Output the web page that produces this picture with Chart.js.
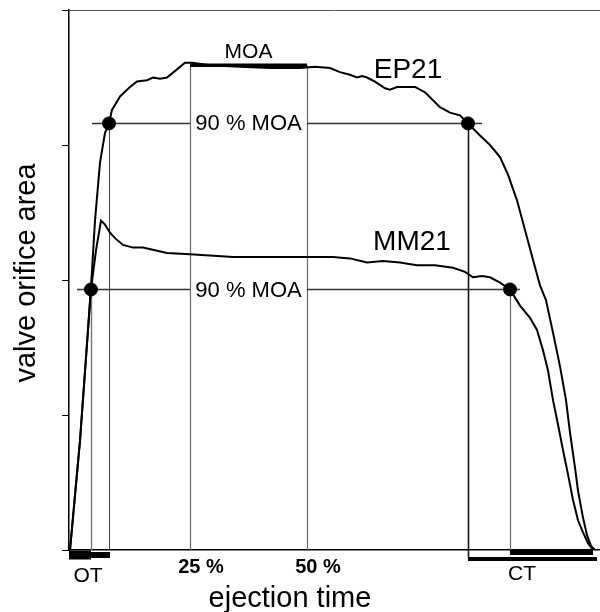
<!DOCTYPE html>
<html>
<head>
<meta charset="utf-8">
<script src="https://cdn.jsdelivr.net/npm/chart.js@4.4.1/dist/chart.umd.min.js"></script>
<style>
  body { margin: 0; background: #fff; }
  canvas { display: block; }
</style>
</head>
<body>
<canvas id="myChart" width="600" height="612"></canvas>
<script>
// EP21 valve orifice area over ejection time
var epTime = [0.5, 5.5, 9.5, 11.5, 13, 15.5, 18, 20, 21.5, 25.5, 30.5, 34, 39, 42, 45.5, 49, 54, 58, 61.5,
  70.5, 85.5, 100.5, 115.5, 123, 130.5, 135.5, 140.5, 144, 146.5, 149, 153, 158, 160.5, 164, 173, 178,
  185.5, 190.5, 195.5, 199.5, 205.5, 210.5, 215.5, 219.5, 224, 228, 232, 235.5, 238.5, 242, 245.5, 248.5,
  250.5, 253, 254.5, 257, 259, 261, 263];
var epArea = [0, 0.81, 1.63, 2.07, 2.44, 2.87, 3.09, 3.16, 3.26, 3.36, 3.43, 3.47, 3.48, 3.5, 3.49, 3.5, 3.56, 3.61, 3.61,
  3.59, 3.58, 3.57, 3.57, 3.58, 3.57, 3.54, 3.52, 3.5, 3.51, 3.5, 3.47, 3.42, 3.41, 3.43, 3.43, 3.39,
  3.28, 3.24, 3.22, 3.16, 3.07, 3.0, 2.91, 2.78, 2.59, 2.37, 2.15, 1.96, 1.85, 1.61, 1.36, 1.11,
  0.87, 0.61, 0.44, 0.24, 0.11, 0.03, 0];

// MM21
var mmTime = [0.5, 5.5, 9.5, 11, 13.5, 16, 18, 20.5, 23, 27, 32, 37, 49, 60.5, 82, 100.5, 115.5, 132, 140.5,
  149, 157, 165.5, 174, 183, 192, 198, 202, 206.5, 210.5, 215.5, 220.5, 225.5, 230.5, 234, 237, 239.5,
  242, 244.5, 247, 249.5, 252, 254.5, 257, 259.5, 261.5, 263];
var mmArea = [0, 0.81, 1.63, 1.93, 2.22, 2.44, 2.41, 2.35, 2.31, 2.26, 2.24, 2.24, 2.2, 2.19, 2.17, 2.17, 2.17, 2.17, 2.16,
  2.13, 2.14, 2.13, 2.11, 2.11, 2.09, 2.06, 2.02, 2.03, 2.02, 1.98, 1.93, 1.81, 1.72, 1.63, 1.48, 1.33,
  1.11, 0.93, 0.74, 0.56, 0.37, 0.22, 0.13, 0.05, 0.01, 0];

// markers: index 0 = EP21, index 1 = MM21
var onsetTime = 0.5;
var openTimes = [20, 11];
var closeTimes = [199.5, 220.5];
var endTimes = [264, 262];
var level90 = [3.16, 1.93];
var lineFrom = [11.5, 4];
var lineTo = [206.5, 225.5];
var moaLevel = 3.59;
var pctTimes = [60.5, 119];
var pctLabels = ['25 %', '50 %'];

var FONT = "'Liberation Sans', Arial, sans-serif";

var dotX = [], dotY = [];
for (var i = 0; i < 2; i++) {
  dotX.push(openTimes[i], closeTimes[i]);
  dotY.push(level90[i], level90[i]);
}

function toPoints(xs, ys) {
  var pts = [];
  for (var i = 0; i < xs.length; i++) pts.push({x: xs[i], y: ys[i]});
  return pts;
}

function seg(ctx, x1, y1, x2, y2) {
  ctx.beginPath();
  ctx.moveTo(x1, y1);
  ctx.lineTo(x2, y2);
  ctx.stroke();
}

var overlay = {
  id: 'overlay',
  beforeDatasetsDraw: function(chart) {
    var ctx = chart.ctx, xs = chart.scales.x, ys = chart.scales.y, a = chart.chartArea;
    var y0 = ys.getPixelForValue(0);
    ctx.save();
    // top frame line
    ctx.strokeStyle = '#555';
    ctx.lineWidth = 1;
    seg(ctx, a.left, a.top + 0.5, a.right, a.top + 0.5);

    // 25 % / 50 % lines
    ctx.strokeStyle = '#666';
    ctx.lineWidth = 1.2;
    pctTimes.forEach(function(t) {
      var px = Math.round(xs.getPixelForValue(t)) + 0.5;
      seg(ctx, px, ys.getPixelForValue(moaLevel), px, y0);
    });

    // opening / closing verticals
    var vcol = [['#444', '#111'], ['#777', '#666']];
    for (var i = 0; i < 2; i++) {
      var yl = ys.getPixelForValue(level90[i]);
      var po = Math.round(xs.getPixelForValue(openTimes[i])) + 0.5;
      var pc = Math.round(xs.getPixelForValue(closeTimes[i])) + 0.5;
      ctx.strokeStyle = vcol[i][0];
      ctx.lineWidth = i === 0 ? 1 : 1.4;
      seg(ctx, po, yl, po, y0);
      ctx.strokeStyle = vcol[i][1];
      ctx.lineWidth = i === 0 ? 1.6 : 1.2;
      seg(ctx, pc, yl, pc, i === 0 ? y0 + 8 : y0);

      // 90 % MOA horizontal, broken where the label sits
      ctx.strokeStyle = '#333';
      ctx.lineWidth = 1.5;
      seg(ctx, xs.getPixelForValue(lineFrom[i]), yl, xs.getPixelForValue(pctTimes[0]), yl);
      seg(ctx, xs.getPixelForValue(pctTimes[1]), yl, xs.getPixelForValue(lineTo[i]), yl);
    }
    ctx.restore();
  },
  afterDatasetsDraw: function(chart) {
    var ctx = chart.ctx, xs = chart.scales.x, ys = chart.scales.y, a = chart.chartArea;
    var y0 = ys.getPixelForValue(0);
    ctx.save();
    ctx.strokeStyle = '#000';
    ctx.lineCap = 'butt';

    // MOA plateau bar
    ctx.lineWidth = 3.5;
    var ym = ys.getPixelForValue(moaLevel);
    seg(ctx, xs.getPixelForValue(pctTimes[0]), ym, xs.getPixelForValue(pctTimes[1]), ym);

    // OT bars
    ctx.lineWidth = 6;
    seg(ctx, xs.getPixelForValue(onsetTime) - 1, y0 + 5, xs.getPixelForValue(openTimes[0]) + 1, y0 + 5);
    ctx.lineWidth = 9;
    seg(ctx, xs.getPixelForValue(onsetTime) - 1, y0 + 5, xs.getPixelForValue(openTimes[1]), y0 + 5);
    // CT bars
    ctx.lineWidth = 5;
    seg(ctx, xs.getPixelForValue(closeTimes[1]), y0 + 2.5, xs.getPixelForValue(endTimes[1]), y0 + 2.5);
    ctx.lineWidth = 4;
    seg(ctx, xs.getPixelForValue(closeTimes[0]), y0 + 9, xs.getPixelForValue(endTimes[0]), y0 + 9);

    // texts
    ctx.fillStyle = '#000';
    ctx.textAlign = 'center';
    ctx.textBaseline = 'middle';
    ctx.font = '22px ' + FONT;
    var midPct = xs.getPixelForValue((pctTimes[0] + pctTimes[1]) / 2);
    for (var i = 0; i < 2; i++) {
      ctx.fillText('90 % MOA', midPct, ys.getPixelForValue(level90[i]) + 1);
    }
    ctx.textBaseline = 'alphabetic';
    ctx.font = '21px ' + FONT;
    ctx.fillText('MOA', midPct, ym - 7);
    ctx.font = '28px ' + FONT;
    ctx.fillText('EP21', xs.getPixelForValue(169.5), ys.getPixelForValue(3.5));
    ctx.fillText('MM21', xs.getPixelForValue(171.5), ys.getPixelForValue(2.22));

    ctx.font = 'bold 20px ' + FONT;
    pctTimes.forEach(function(t, k) {
      ctx.fillText(pctLabels[k], xs.getPixelForValue(t) + 11, y0 + 23);
    });
    ctx.font = '21px ' + FONT;
    ctx.fillText('OT', xs.getPixelForValue(openTimes[1]) - 3, y0 + 32);
    ctx.fillText('CT', xs.getPixelForValue(closeTimes[1]) + 12, y0 + 30);

    ctx.font = '29px ' + FONT;
    ctx.fillText('ejection time', 290, y0 + 57);

    ctx.translate(35, 273);
    ctx.rotate(-Math.PI / 2);
    ctx.fillText('valve orifice area', 0, 0);
    ctx.restore();
  }
};

var config = {
  type: 'scatter',
  data: {
    datasets: [
      {
        label: 'dots',
        data: toPoints(dotX, dotY),
        pointRadius: 6.5,
        pointBackgroundColor: '#000',
        pointBorderColor: '#000',
        showLine: false
      },
      {
        label: 'EP21',
        data: toPoints(epTime, epArea),
        showLine: true,
        borderColor: '#000',
        borderWidth: 2,
        pointRadius: 0,
        tension: 0
      },
      {
        label: 'MM21',
        data: toPoints(mmTime, mmArea),
        showLine: true,
        borderColor: '#000',
        borderWidth: 2,
        pointRadius: 0,
        tension: 0
      }
    ]
  },
  options: {
    responsive: false,
    animation: false,
    layout: { autoPadding: false, padding: { top: 10, right: 0, left: 0, bottom: 0 } },
    plugins: {
      legend: { display: false },
      tooltip: { enabled: false }
    },
    scales: {
      x: {
        type: 'linear',
        min: 0,
        max: 265.5,
        ticks: { display: false },
        grid: { drawOnChartArea: false, drawTicks: false },
        border: { color: '#000', width: 1.5 },
        afterFit: function(s) { s.height = 62; }
      },
      y: {
        min: 0,
        max: 4,
        ticks: { display: false, stepSize: 1 },
        grid: { drawOnChartArea: false, drawTicks: true, tickLength: 7, color: '#000', lineWidth: 1 },
        border: { color: '#000', width: 1.5 },
        afterFit: function(s) { s.width = 69; }
      }
    }
  },
  plugins: [overlay]
};

var ctx = document.getElementById('myChart').getContext('2d');
var myChart = new Chart(ctx, config);
</script>
</body>
</html>
